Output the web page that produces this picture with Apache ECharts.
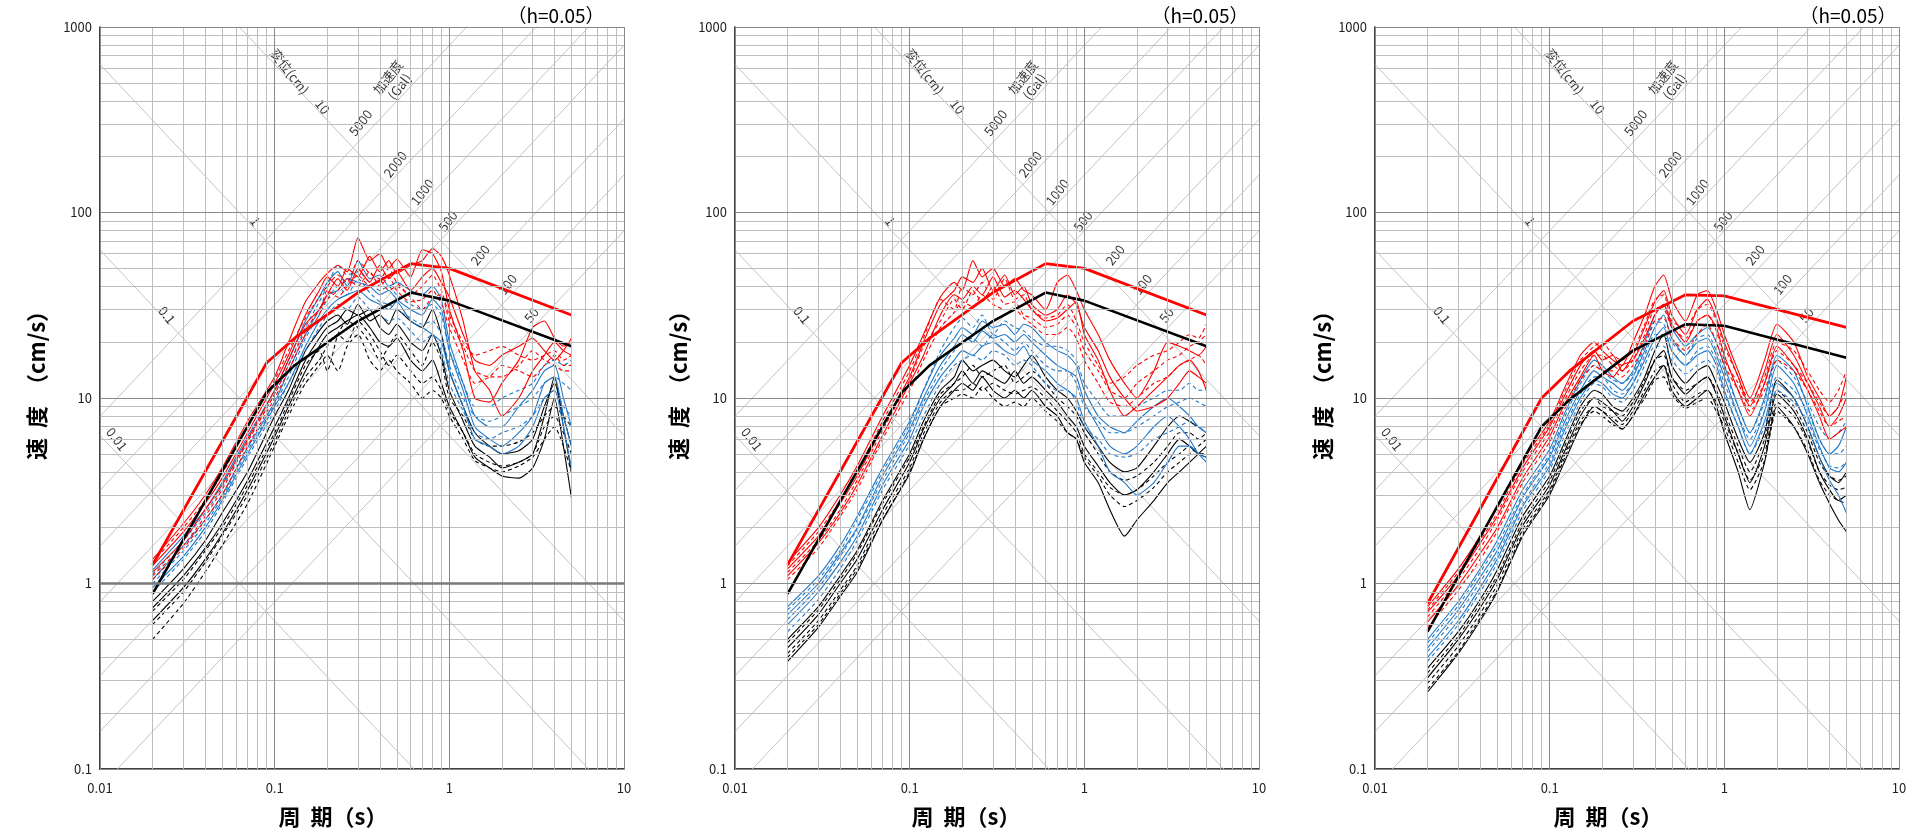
<!DOCTYPE html>
<html><head><meta charset="utf-8">
<script src="https://cdn.jsdelivr.net/npm/echarts@6/dist/echarts.min.js"></script>
<style>html,body{margin:0;padding:0;background:#fff}#c{width:1912px;height:835px}</style>
</head><body><div id="c"></div>
<script>
// ---------- data ----------
const periods = [0.02,0.03,0.04,0.05,0.07,0.1,0.12,0.15,0.18,0.2,0.23,0.26,0.3,0.35,0.4,0.45,0.5,0.6,0.7,0.8,0.9,1.0,1.2,1.4,1.7,2.0,2.5,3.0,3.5,4.0,4.5,5.0];
const xTickValues = [0.01,0.1,1,10];
const yTickValues = [0.1,1,10,100,1000];

// panel 1
const p1RedSolid = [
 [1.35,2.1,3.0,4.2,7.5,13,20,33,42,47,52,48,73,55,60,50,56,45,63,60,48,30,18,10,9.5,12,16,24,26,21,19,20],
 [1.25,1.9,2.7,3.7,6.5,12,17,28,38,45,40,50,45,58,48,55,47,52,55,64,58,46,26,14,11,8,10,14,17,20,18,17],
 [1.15,1.7,2.5,3.4,6.0,11,16,25,30,36,44,38,50,42,52,44,48,38,45,50,42,35,22,16,15,17,19,21,18,16,18,21]];
const p1RedDash = [
 [1.3,2.0,2.8,3.9,7.0,12.5,18,27,35,40,46,42,55,47,44,50,42,36,40,46,38,28,20,17,18,19,17,16,17,18,16,17],
 [1.1,1.6,2.3,3.2,5.8,10.5,15,23,30,34,38,44,40,48,40,45,38,33,34,38,32,24,16,12,13,15,14,13,15,17,15,15],
 [1.05,1.55,2.2,3.0,5.5,10,14,22,28,38,35,40,46,40,43,38,40,35,30,35,36,26,19,14,13,13,15,18,16,15,14,14]];
const p1BlueSolid = [
 [1.18,1.8,2.5,3.5,6.2,11,16,26,35,42,48,40,55,44,46,40,42,38,36,40,34,20,12,8,7,7,9,11,14,15,10,7],
 [1.05,1.6,2.2,3.0,5.4,9.5,14,22,30,36,38,44,42,40,36,38,34,30,28,34,30,18,11,7,6,5.5,6.5,8,12,13,8,5.5],
 [0.95,1.4,2.0,2.8,5.0,9,12,19,26,30,34,36,38,34,32,30,33,26,24,22,20,14,9,6,5.5,5,5.5,7,10,11,7,4.2]];
const p1BlueDash = [
 [1.12,1.7,2.4,3.3,5.9,10.5,15,24,33,40,52,46,48,42,38,40,36,32,30,32,28,18,12,9,9,10,11,12,15,16,15,16],
 [1.0,1.5,2.1,2.9,5.2,9.2,13,21,28,34,40,36,44,37,33,32,30,27,25,26,22,15,10,8,7.5,8,9,10,12,13,12,11],
 [0.9,1.35,1.9,2.7,4.8,8.5,12,18,24,28,32,30,35,30,28,26,27,23,20,22,18,12,8.5,6.5,6,6.5,7,8,10,11,9,8]];
const p1BlackSolid = [
 [0.8,1.2,1.7,2.4,4.0,8,11,18,23,26,28,25,32,26,28,25,30,26,24,30,22,14,9,6.5,5.5,5,5.2,6,9,12,8,5.5],
 [0.74,1.1,1.55,2.1,3.6,7,10,16,21,24,26,30,28,30,24,22,25,20,18,22,17,11,7.5,5.5,4.8,4.2,4.5,5,8,13,7,4.0],
 [0.63,0.95,1.35,1.85,3.2,6.2,9,14,19,22,24,26,28,24,20,19,21,16,14,16,12,9,6.5,4.8,4.2,3.8,3.7,4.2,6,10,5.5,2.9]];
const p1BlackDash = [
 [0.71,1.05,1.5,2.0,3.4,6.5,9.5,15,18,14,22,26,24,20,16,19,22,18,15,20,16,10,8,6,5.5,5.5,5.8,6.5,8,9,8,7],
 [0.6,0.9,1.3,1.8,3.0,5.8,8.5,13,16,19,22,20,26,22,18,15,17,14,12,13,11,8.5,6.5,5,4.5,4.3,4.5,5,7,8,6.5,5],
 [0.5,0.78,1.15,1.6,2.7,5.5,8,12,15,17,14,19,22,16,14,16,14,12,10,11,10,8,6,4.6,4.2,4,4.3,4.8,6,7,5.5,4]];

// panel 2
const p2RedSolid = [
 [1.3,2.0,3.0,4.3,8,15,22,35,42,38,55,45,50,40,44,38,36,30,42,46,38,30,22,16,12,10,14,20,19,18,17,19],
 [1.2,1.8,2.7,3.8,7,13,20,32,38,45,42,50,38,46,36,40,32,28,30,36,32,24,18,13,10,8.5,9,10,12,14,13,12],
 [1.1,1.65,2.4,3.4,6.3,12,17,28,36,34,40,36,45,35,38,34,30,26,27,30,33,22,16,11,8,9,11,13,15,16,14,11]];
const p2RedDash = [
 [1.25,1.9,2.8,4.0,7.5,14,21,34,30,40,36,42,34,44,34,36,30,27,28,32,26,20,15,12,13,15,17,18,20,22,21,25],
 [1.15,1.7,2.5,3.6,6.7,12.5,19,26,34,30,38,33,40,32,33,28,27,24,25,28,24,18,14,11,10,12,14,16,17,19,20,22],
 [1.05,1.55,2.3,3.2,6,11,16,24,29,33,31,36,32,30,30,27,25,22,22,24,21,16,12,9.5,9,10,12,13,15,16,17,15]];
const p2BlueSolid = [
 [0.75,1.1,1.6,2.3,4.2,7.5,11,17,21,24,22,26,24,25,22,25,24,20,18,17,15,11,8,7,6.5,7.5,9,10,9,8,7,6.5],
 [0.68,1.0,1.45,2.0,3.8,6.8,10,15,19,22,20,23,21,22,20,22,20,17,15,14,13,9.5,7,5.5,5,5.5,7,8,7,6,5,4.8],
 [0.6,0.9,1.3,1.8,3.4,6,9,13,16,18,17,19,20,18,17,19,16,14,12,11,10,7.5,5.5,4,3.5,3,3.5,4.5,5.5,5.5,5,4.5]];
const p2BlueDash = [
 [0.72,1.05,1.5,2.2,4,7.2,11,18,24,27,24,28,22,26,24,23,21,19,19,18,16,12,9.5,8,8,9,10,11,11,12,11,11],
 [0.64,0.95,1.4,1.95,3.6,6.5,9.5,14,18,20,21,19,22,20,18,20,18,15,14,14,12,9,7.5,6.5,6.5,7,8,9,9.5,10,9.5,9],
 [0.55,0.82,1.2,1.7,3.2,5.6,8,12,15,16,17,16,18,17,15,16,15,12,11,11,9.5,7,6,5,4.8,5,6,6.5,7,7.5,7,6.5]];
const p2BlackSolid = [
 [0.5,0.75,1.1,1.5,2.8,5,7.5,11,13,16,14,15,16,14,13,15,17,13,11,10,8.5,7,5.5,4.5,4,4.2,5.5,7,8,7.5,7,7],
 [0.45,0.68,1.0,1.35,2.5,4.5,6.8,10,12,14,12,14,13,12,14,12,13,11,9.5,8,7,5.5,4.3,3.5,3,3.2,4,5,6,5.5,5,4.8],
 [0.38,0.58,0.85,1.15,2.2,3.9,6,9,11,12,11,13,11,10,11,10,11,9,8,6.5,6,4.5,3.5,2.5,1.8,2.2,2.8,3.5,4,4.5,5,5.5]];
const p2BlackDash = [
 [0.48,0.72,1.05,1.45,2.7,4.8,7,10.5,12,13,15,13,14,15,12,13,14,12,10,9,8,6.5,5,4,3.6,3.8,4.5,5.5,6.5,6.5,6,6.5],
 [0.42,0.63,0.92,1.25,2.35,4.2,6.4,9.5,11,11,12,11,12,11,10.5,11,11.5,10,8.5,7.5,6.5,5,4,3.3,3,3.2,3.8,4.5,5,5.5,5,5],
 [0.4,0.6,0.88,1.2,2.2,4,6,9,10,10.5,10,11.5,10,9,9.5,9,10,8.5,7.5,6.5,6,4.8,3.8,3,2.6,2.8,3.3,4,4.5,5,5.5,6]];

// panel 3
const p3RedSolid = [
 [0.75,1.2,1.8,2.6,4.6,7.5,11,17,20,18,16,15,20,28,40,46,34,26,36,38,30,22,14,10,16,25,20,13,10,8,9,13],
 [0.7,1.1,1.65,2.3,4.2,7,10,15,18,16,17,14,17,24,33,38,28,22,30,34,27,20,13,9,14,22,17,12,9,7,8,10],
 [0.62,0.98,1.45,2.0,3.7,6.2,9,13,17,14,13,15,16,21,28,32,25,20,26,28,24,17,11,8,12,19,15,11,8,6,6.5,7]];
const p3RedDash = [
 [0.72,1.15,1.7,2.4,4.4,7.2,10.5,16,19,20,17,16,18,25,34,36,26,24,30,32,26,19,13,9.5,13,20,18,14,11,9.5,11,14],
 [0.66,1.05,1.55,2.2,4.0,6.6,9.5,14,17,17,15,14,16,22,30,30,24,21,26,28,23,16,12,9,12,18,15,12,9.5,8,9,11],
 [0.58,0.92,1.35,1.9,3.5,5.8,8.5,12.5,15,14,14,13,15,19,26,27,21,18,22,25,20,15,11,8.5,11,16,14,11,8.5,7,7.5,8]];
const p3BlueSolid = [
 [0.5,0.8,1.2,1.7,3.2,5.3,8,12.5,16,15,13,12,14,20,28,32,24,19,22,24,20,15,9,6.5,10,17,14,9,6,5,5.5,7],
 [0.45,0.72,1.08,1.5,2.9,4.8,7.2,11,14,13,12,11,13,18,24,28,21,17,20,21,17,13,8,5.5,8.5,15,12,8,5.5,4.2,4,4.5],
 [0.4,0.63,0.95,1.35,2.6,4.3,6.5,10,12.5,12,10.5,10,12,16,21,24,18,15,17,18,15,11,7,5,7.5,12,10,7,4.8,3.6,3,2.4]];
const p3BlueDash = [
 [0.48,0.76,1.15,1.6,3.0,5,7.6,12,15,14,12.5,12,13.5,19,26,25,20,17,21,22,18,14,9,6.5,9.5,16,13,9.5,7,6,6.5,7.5],
 [0.43,0.68,1.02,1.42,2.7,4.5,6.8,10.5,13,13,11,10.5,12,17,22,22,18,15,18,19,16,12,8,6,8.5,13,11,8.5,6,5,5,5.5],
 [0.38,0.6,0.9,1.28,2.45,4.1,6.1,9.5,12,11.5,10,9.5,11,15,19,19,16,13.5,15,16,14,10.5,7,5,7,11,9.5,7.5,5.3,4.3,4.2,4.5]];
const p3BlackSolid = [
 [0.35,0.55,0.82,1.18,2.3,3.8,5.6,9,11,10.5,9,8.5,10,13,18,22,15,12,14,15,12,9.5,6,4.5,6.5,12.5,10,7,4.8,3.8,3.5,4],
 [0.31,0.5,0.74,1.05,2.05,3.4,5,8,10,9.5,8.5,7.5,9,12,16,18,13,10.5,12,13,10.5,8,5,3.5,5.5,10.5,8.5,6,4,3.2,2.8,3],
 [0.26,0.42,0.63,0.9,1.8,3,4.4,7,9,8.5,7.5,6.8,8,10.5,13,15,11,9,10,11,9,6.5,4,2.5,4.5,9,7,5,3.5,2.7,2.2,1.9]];
const p3BlackDash = [
 [0.33,0.52,0.78,1.1,2.15,3.6,5.3,8.5,10,9,8.5,8,9.5,12.5,16,17,13,11,12,13,11,8.5,5.5,4,6,11,9,6.5,4.5,3.8,3.6,3.8],
 [0.29,0.46,0.69,0.98,1.95,3.2,4.8,7.5,9,8.5,7.8,7.2,8.5,11,14,15,12,9.5,10.5,11,9.5,7.5,5,3.6,5,9.5,8,5.8,4,3.4,3.2,3.3],
 [0.27,0.43,0.65,0.92,1.85,3.1,4.6,7.2,8.5,8,7.2,6.8,8,10,12.5,13,10.5,8.8,9.5,10,8.5,7,4.5,3.2,4.6,8.5,7,5.2,3.6,3,2.8,2.7]];

// design (thick) spectra
const thickPeriods = [0.02,0.09,0.13,0.3,0.6,1.0,5.0];
const p1RedThick = [1.26,15.5,21,37,53,50,28];
const p1BlackThick = [0.88,10.7,15,26,37,33.5,19];
const p2RedThick = [1.26,15.5,21,37,53,50,28];
const p2BlackThick = [0.88,10.7,15,26,37,33.5,19];
const p3RedThick = [0.78,10,14,26,36,35.5,24];
const p3BlackThick = [0.55,7,9.8,18,25,24.5,16.5];

// tripartite guide lines and labels
const dispLines = [0.01,0.1,1,10];           // cm
const accLines = [50,100,200,500,1000,2000,5000]; // Gal
const guideLabelText = ['変位(cm)','10','0.01','0.1','1','加速度\n(Gal)','5000','2000','1000','500','200','100','50'];
const guideLabelT    = [0.122,0.188,0.0125,0.0242,0.0775,0.48,0.31,0.49,0.70,0.98,1.50,2.15,2.95];
const guideLabelV    = [575,372,6.0,28,90,505,305,182,129,90,59,41,28];
const guideLabelRot  = [-52,-52,-52,-52,-52,52,52,52,52,52,52,52,52];

// ---------- chart ----------
const panels = [
  {left:100, red:[p1RedSolid,p1RedDash], blue:[p1BlueSolid,p1BlueDash], black:[p1BlackSolid,p1BlackDash], rt:p1RedThick, bt:p1BlackThick, hx:556, tx:333, yx:37, dark1:true},
  {left:735, red:[p2RedSolid,p2RedDash], blue:[p2BlueSolid,p2BlueDash], black:[p2BlackSolid,p2BlackDash], rt:p2RedThick, bt:p2BlackThick, hx:1200, tx:966, yx:679, dark1:false},
  {left:1375, red:[p3RedSolid,p3RedDash], blue:[p3BlueSolid,p3BlueDash], black:[p3BlackSolid,p3BlackDash], rt:p3RedThick, bt:p3BlackThick, hx:1848, tx:1608, yx:1323, dark1:false}
];
const TOP = 27, W = 524, H = 742;
const FONT = '"Noto Sans CJK JP", "Noto Sans", sans-serif';
const RED = '#ff0000', BLUE = '#1f78c8', BLACK = '#000000';

function fmt(v){ return v >= 1 ? String(Math.round(v)) : String(+(+v).toPrecision(1)); }
function decadeMinors(min, max){
  const out = [];
  for (let e = Math.round(Math.log10(min)); e < Math.round(Math.log10(max)); e++) {
    for (let k = 2; k <= 9; k++) out.push(+(k * Math.pow(10, e)).toPrecision(3));
  }
  return out;
}

const grids = [], xAxes = [], yAxes = [], series = [], graphics = [];
panels.forEach((p, i) => {
  grids.push({left:p.left, top:TOP, width:W, height:H});
  xAxes.push({gridIndex:i, type:'log', logBase:10, min:0.01, max:10,
    axisLine:{show:true, onZero:false, lineStyle:{color:'#000', width:1.5}},
    axisTick:{show:false}, splitLine:{show:false},
    axisLabel:{fontSize:13, color:'#222', margin:13, fontFamily:FONT, formatter:fmt}});
  yAxes.push({gridIndex:i, type:'log', logBase:10, min:0.1, max:1000,
    axisLine:{show:true, onZero:false, lineStyle:{color:'#000', width:1.5}},
    axisTick:{show:false}, splitLine:{show:false},
    axisLabel:{fontSize:13, color:'#222', margin:8, fontFamily:FONT, formatter:fmt}});

  // grid lines
  const ml = [];
  decadeMinors(0.01, 10).forEach(v => ml.push({xAxis:v, lineStyle:{color:'#bdbdbd', width:1, type:'solid'}}));
  decadeMinors(0.1, 1000).forEach(v => ml.push({yAxis:v, lineStyle:{color:'#bdbdbd', width:1, type:'solid'}}));
  xTickValues.forEach(v => ml.push({xAxis:v, lineStyle:{color:'#8a8a8a', width:1, type:'solid'}}));
  yTickValues.forEach(v => ml.push({yAxis:v, lineStyle:{color: (v===1 && p.dark1) ? '#7a7a7a' : '#8a8a8a', width:(v===1 && p.dark1) ? 2.5 : 1, type:'solid'}}));
  series.push({type:'line', xAxisIndex:i, yAxisIndex:i, data:[[1,1]], symbol:'none', lineStyle:{opacity:0}, silent:true, z:1,
    markLine:{silent:true, symbol:['none','none'], label:{show:false}, animation:false, data:ml}});

  // tripartite diagonals
  dispLines.forEach(d => series.push({type:'line', xAxisIndex:i, yAxisIndex:i, symbol:'none', silent:true, z:1, clip:true,
    lineStyle:{color:'#c4c4c4', width:1}, data:[[0.01, 2*Math.PI*d/0.01],[10, 2*Math.PI*d/10]]}));
  accLines.forEach(a => series.push({type:'line', xAxisIndex:i, yAxisIndex:i, symbol:'none', silent:true, z:1, clip:true,
    lineStyle:{color:'#c4c4c4', width:1}, data:[[0.01, a*0.01/(2*Math.PI)],[10, a*10/(2*Math.PI)]]}));
  series.push({type:'scatter', xAxisIndex:i, yAxisIndex:i, symbolSize:1, itemStyle:{color:'rgba(0,0,0,0)'}, silent:true, z:2,
    data: guideLabelText.map((t, k) => ({value:[guideLabelT[k], guideLabelV[k]],
      label:{show:true, position:'inside', formatter:t, rotate:guideLabelRot[k], fontSize:13, lineHeight:15, color:'#000', fontFamily:FONT}}))});

  // spectra
  const addSet = (sets, color) => {
    sets.forEach((set, si) => set.forEach(vals => series.push({type:'line', xAxisIndex:i, yAxisIndex:i, symbol:'none', silent:true, z:3,
      smooth:0.2, lineStyle:{color, width:1.1, type: si===0 ? 'solid' : [4,3]},
      data: periods.map((t, k) => [t, vals[k]])})));
  };
  addSet(p.black, BLACK);
  addSet(p.blue, BLUE);
  addSet(p.red, RED);
  series.push({type:'line', xAxisIndex:i, yAxisIndex:i, symbol:'none', silent:true, z:4, lineStyle:{color:BLACK, width:2.6},
    data: thickPeriods.map((t, k) => [t, p.bt[k]])});
  series.push({type:'line', xAxisIndex:i, yAxisIndex:i, symbol:'none', silent:true, z:4, lineStyle:{color:RED, width:2.8},
    data: thickPeriods.map((t, k) => [t, p.rt[k]])});

  graphics.push({type:'text', x:p.hx, y:16, style:{text:'（h=0.05）', font:'19px ' + FONT, fill:'#000', align:'center', verticalAlign:'middle'}});
  graphics.push({type:'text', x:p.tx, y:817, style:{text:'周  期（s）', font:'bold 22px ' + FONT, fill:'#000', align:'center', verticalAlign:'middle'}});
  graphics.push({type:'text', x:p.yx, y:380, rotation:Math.PI/2, style:{text:'速  度  （cm/s）', font:'bold 22px ' + FONT, fill:'#000', align:'center', verticalAlign:'middle'}});
});

const chart = echarts.init(document.getElementById('c'));
chart.setOption({animation:false, backgroundColor:'#fff', grid:grids, xAxis:xAxes, yAxis:yAxes, series, graphic:graphics});
</script></body></html>
